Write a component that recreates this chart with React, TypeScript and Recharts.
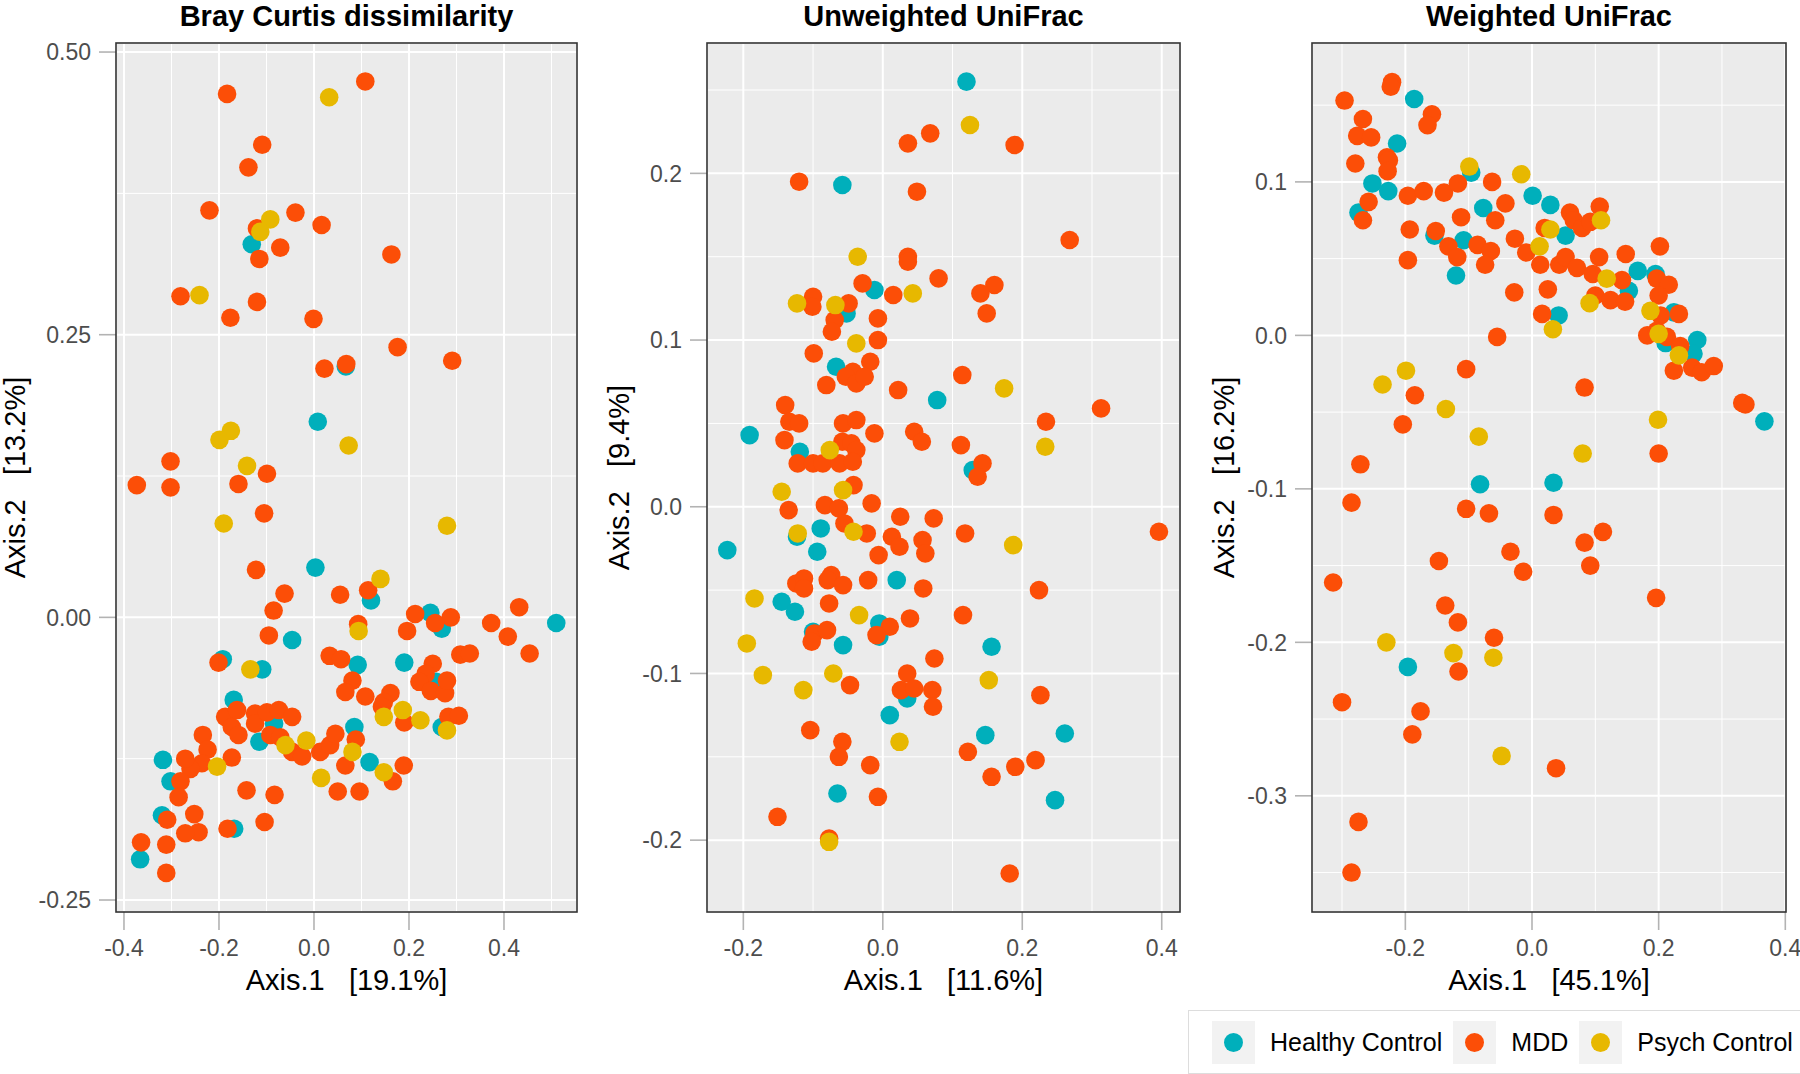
import React from 'react';
import { ScatterChart, Scatter, XAxis, YAxis, CartesianGrid, ReferenceLine } from 'recharts';

type Pt = [number, number];

const groups = ['Healthy Control', 'MDD', 'Psych Control'];
const groupColors = ['#00AFBB', '#FC4E07', '#E7B800'];

// Bray Curtis
const brayHealthy: Pt[] = [
  [-0.131, 0.33], [0.067, 0.222], [0.008, 0.173], [0.003, 0.044], [0.12, 0.015], [0.245, 0.004],
  [0.269, -0.01], [0.51, -0.005], [-0.046, -0.02], [0.092, -0.042], [0.19, -0.04], [0.257, -0.057],
  [-0.192, -0.037], [-0.109, -0.046], [0.269, -0.097], [-0.169, -0.073], [-0.084, -0.094], [-0.115, -0.11],
  [0.085, -0.097], [0.117, -0.128], [-0.318, -0.126], [-0.302, -0.145], [-0.32, -0.175], [-0.168, -0.187],
  [-0.366, -0.214],
];
const brayMdd: Pt[] = [
  [-0.183, 0.463], [0.108, 0.474], [-0.109, 0.418], [-0.138, 0.398], [-0.22, 0.36], [-0.12, 0.344],
  [-0.039, 0.358], [0.016, 0.347], [-0.071, 0.327], [-0.115, 0.317], [0.163, 0.321], [-0.281, 0.284],
  [-0.12, 0.279], [-0.176, 0.265], [-0.001, 0.264], [0.176, 0.239], [0.291, 0.227], [0.022, 0.22],
  [0.068, 0.224], [-0.302, 0.138], [-0.099, 0.127], [-0.373, 0.117], [-0.302, 0.115], [-0.159, 0.118],
  [-0.105, 0.092], [-0.122, 0.042], [-0.062, 0.021], [0.055, 0.02], [0.114, 0.024], [-0.085, 0.006],
  [0.213, 0.003], [0.288, 0.0], [0.255, -0.005], [0.373, -0.005], [0.432, 0.009], [0.408, -0.017],
  [0.454, -0.032], [0.093, -0.006], [0.196, -0.012], [-0.095, -0.016], [0.033, -0.034], [0.057, -0.037],
  [0.308, -0.033], [0.328, -0.032], [0.25, -0.041], [0.235, -0.05], [0.222, -0.057], [0.246, -0.065],
  [0.276, -0.067], [0.28, -0.056], [-0.201, -0.04], [0.081, -0.056], [0.066, -0.066], [0.108, -0.07],
  [0.161, -0.067], [0.147, -0.075], [0.143, -0.079], [0.19, -0.093], [0.283, -0.088], [0.305, -0.087],
  [-0.187, -0.088], [-0.162, -0.082], [-0.173, -0.097], [-0.159, -0.104], [-0.124, -0.085], [-0.124, -0.094],
  [-0.099, -0.084], [-0.074, -0.082], [-0.046, -0.088], [-0.092, -0.104], [-0.071, -0.106], [-0.046, -0.119],
  [-0.025, -0.123], [0.013, -0.119], [0.034, -0.113], [0.045, -0.103], [0.088, -0.108], [0.066, -0.131],
  [0.166, -0.145], [0.189, -0.131], [0.05, -0.154], [0.096, -0.154], [-0.234, -0.104], [-0.224, -0.117],
  [-0.236, -0.129], [-0.26, -0.134], [-0.271, -0.125], [-0.173, -0.124], [-0.281, -0.145], [-0.285, -0.159],
  [-0.142, -0.153], [-0.083, -0.157], [-0.309, -0.179], [-0.252, -0.174], [-0.243, -0.19], [-0.271, -0.191],
  [-0.182, -0.187], [-0.104, -0.181], [-0.364, -0.199], [-0.311, -0.201], [-0.311, -0.226],
];
const brayPsych: Pt[] = [
  [0.032, 0.46], [-0.092, 0.352], [-0.113, 0.341], [-0.241, 0.285], [0.073, 0.152], [-0.175, 0.165],
  [-0.199, 0.157], [-0.141, 0.134], [-0.19, 0.083], [0.28, 0.081], [0.14, 0.034], [0.094, -0.012],
  [-0.134, -0.046], [0.147, -0.088], [0.187, -0.082], [0.224, -0.091], [0.28, -0.1], [-0.06, -0.113],
  [-0.016, -0.109], [0.081, -0.119], [0.147, -0.137], [0.015, -0.142], [-0.204, -0.132],
];

// Unweighted UniFrac
const unwHealthy: Pt[] = [
  [0.12, 0.255], [-0.058, 0.193], [-0.012, 0.13], [-0.052, 0.116], [-0.067, 0.084], [0.078, 0.064],
  [-0.191, 0.043], [-0.119, 0.033], [0.129, 0.022], [-0.223, -0.026], [-0.089, -0.013], [-0.123, -0.018],
  [-0.094, -0.027], [0.02, -0.044], [-0.145, -0.057], [-0.126, -0.063], [-0.005, -0.07], [-0.005, -0.078],
  [-0.1, -0.075], [-0.057, -0.083], [0.156, -0.084], [0.035, -0.115], [0.01, -0.125], [0.147, -0.137],
  [0.261, -0.136], [-0.065, -0.172], [0.247, -0.176],
];
const unwMdd: Pt[] = [
  [0.068, 0.224], [0.036, 0.218], [0.189, 0.217], [-0.12, 0.195], [0.049, 0.189], [0.268, 0.16],
  [0.036, 0.15], [0.036, 0.147], [0.08, 0.137], [-0.029, 0.134], [0.015, 0.127], [0.16, 0.133],
  [0.14, 0.128], [0.149, 0.116], [-0.1, 0.126], [-0.101, 0.12], [-0.049, 0.122], [-0.069, 0.112],
  [-0.073, 0.105], [-0.007, 0.113], [-0.007, 0.1], [-0.099, 0.092], [-0.018, 0.087], [-0.043, 0.081],
  [-0.053, 0.078], [-0.038, 0.074], [-0.026, 0.078], [-0.081, 0.073], [0.114, 0.079], [0.022, 0.07],
  [0.313, 0.059], [-0.14, 0.061], [-0.134, 0.051], [-0.12, 0.05], [-0.057, 0.05], [-0.038, 0.052],
  [0.234, 0.051], [-0.141, 0.04], [-0.012, 0.044], [0.045, 0.045], [0.056, 0.039], [0.112, 0.037],
  [-0.058, 0.039], [-0.045, 0.038], [-0.038, 0.034], [0.143, 0.026], [0.136, 0.018], [-0.122, 0.026],
  [-0.1, 0.026], [-0.086, 0.026], [-0.062, 0.026], [-0.043, 0.027], [-0.042, 0.013], [-0.016, 0.002],
  [-0.135, -0.002], [-0.083, 0.001], [-0.063, -0.001], [-0.055, -0.01], [0.025, -0.006], [0.073, -0.007],
  [0.118, -0.016], [0.396, -0.015], [-0.023, -0.016], [0.013, -0.018], [0.024, -0.024], [0.057, -0.02],
  [0.061, -0.028], [-0.006, -0.029], [-0.124, -0.046], [-0.113, -0.043], [-0.113, -0.049], [-0.074, -0.041],
  [-0.079, -0.044], [-0.057, -0.047], [-0.021, -0.044], [0.058, -0.049], [0.224, -0.05], [-0.077, -0.058],
  [0.01, -0.072], [-0.009, -0.077], [0.039, -0.067], [0.115, -0.065], [-0.098, -0.076], [-0.08, -0.074],
  [-0.102, -0.081], [0.074, -0.091], [-0.047, -0.107], [0.035, -0.1], [0.026, -0.11], [0.045, -0.109],
  [0.071, -0.11], [0.072, -0.12], [0.226, -0.113], [-0.104, -0.134], [-0.058, -0.141], [-0.063, -0.15],
  [0.122, -0.147], [-0.018, -0.155], [0.156, -0.162], [0.19, -0.156], [0.219, -0.152], [-0.007, -0.174],
  [-0.151, -0.186], [-0.077, -0.199], [0.182, -0.22],
];
const unwPsych: Pt[] = [
  [0.125, 0.229], [-0.036, 0.15], [0.043, 0.128], [-0.123, 0.122], [-0.068, 0.121], [-0.038, 0.098],
  [0.174, 0.071], [0.233, 0.036], [-0.076, 0.034], [-0.145, 0.009], [-0.057, 0.01], [0.187, -0.023],
  [-0.122, -0.016], [-0.042, -0.015], [-0.184, -0.055], [-0.034, -0.065], [-0.195, -0.082], [-0.172, -0.101],
  [-0.114, -0.11], [-0.071, -0.1], [0.152, -0.104], [0.024, -0.141], [-0.077, -0.201],
];

// Weighted UniFrac
const wHealthy: Pt[] = [
  [-0.186, 0.154], [-0.213, 0.125], [-0.252, 0.099], [-0.227, 0.094], [-0.274, 0.08], [-0.096, 0.106],
  [-0.077, 0.083], [0.001, 0.091], [0.029, 0.085], [-0.154, 0.065], [-0.108, 0.062], [0.053, 0.065],
  [-0.12, 0.039], [0.167, 0.042], [0.195, 0.04], [0.153, 0.029], [0.042, 0.013], [0.224, 0.015],
  [0.211, -0.005], [0.261, -0.003], [0.255, -0.012], [0.367, -0.056], [-0.082, -0.097], [0.034, -0.096],
  [-0.196, -0.216],
];
const wMdd: Pt[] = [
  [-0.221, 0.165], [-0.223, 0.162], [-0.296, 0.153], [-0.158, 0.144], [-0.165, 0.137], [-0.267, 0.141],
  [-0.276, 0.13], [-0.254, 0.129], [-0.279, 0.112], [-0.229, 0.116], [-0.226, 0.114], [-0.228, 0.107],
  [-0.258, 0.087], [-0.267, 0.075], [-0.196, 0.091], [-0.171, 0.094], [-0.139, 0.093], [-0.117, 0.099],
  [-0.063, 0.1], [-0.042, 0.086], [-0.112, 0.077], [-0.058, 0.075], [0.06, 0.08], [0.066, 0.075],
  [0.079, 0.07], [0.092, 0.074], [0.107, 0.084], [-0.193, 0.069], [-0.152, 0.068], [-0.132, 0.058],
  [-0.118, 0.051], [-0.086, 0.059], [-0.065, 0.055], [-0.074, 0.046], [-0.027, 0.063], [0.02, 0.07],
  [-0.196, 0.049], [-0.009, 0.054], [0.013, 0.046], [0.043, 0.046], [0.053, 0.051], [0.071, 0.044],
  [0.096, 0.04], [0.106, 0.051], [0.148, 0.053], [0.202, 0.058], [0.142, 0.036], [0.197, 0.037],
  [0.216, 0.033], [0.2, 0.026], [-0.028, 0.028], [0.025, 0.03], [0.1, 0.026], [0.124, 0.023],
  [0.147, 0.022], [0.016, 0.014], [-0.055, -0.001], [0.203, 0.013], [0.232, 0.014], [0.182, 0.0],
  [0.197, 0.003], [0.213, -0.001], [0.234, -0.007], [0.224, -0.023], [0.253, -0.021], [0.268, -0.024],
  [0.287, -0.02], [0.332, -0.044], [0.337, -0.045], [-0.104, -0.022], [-0.185, -0.039], [-0.204, -0.058],
  [0.083, -0.034], [0.2, -0.077], [-0.271, -0.084], [-0.285, -0.109], [-0.104, -0.113], [-0.068, -0.116],
  [0.034, -0.117], [0.112, -0.128], [0.083, -0.135], [-0.147, -0.147], [-0.034, -0.141], [-0.014, -0.154],
  [0.092, -0.15], [-0.314, -0.161], [0.196, -0.171], [-0.137, -0.176], [-0.117, -0.187], [-0.06, -0.197],
  [-0.116, -0.219], [-0.3, -0.239], [-0.176, -0.245], [-0.189, -0.26], [0.038, -0.282], [-0.274, -0.317],
  [-0.285, -0.35],
];
const wPsych: Pt[] = [
  [-0.099, 0.11], [-0.017, 0.105], [0.109, 0.075], [0.012, 0.058], [0.029, 0.069], [0.118, 0.037],
  [0.091, 0.021], [0.033, 0.004], [0.187, 0.016], [0.2, 0.001], [0.232, -0.013], [-0.199, -0.023],
  [-0.236, -0.032], [-0.136, -0.048], [-0.084, -0.066], [0.199, -0.055], [0.08, -0.077], [-0.23, -0.2],
  [-0.124, -0.207], [-0.061, -0.21], [-0.048, -0.274],
];

const toData = (pts: Pt[]) => pts.map(([x, y]) => ({ x, y }));

const FONT = "'Liberation Sans', Arial, sans-serif";

const CHART_H = 1000;
const TOP = 43;
const X_AXIS_H = 88;

const panels = [
  {
    title: 'Bray Curtis dissimilarity',
    xTitle: 'Axis.1   [19.1%]',
    yTitle: 'Axis.2   [13.2%]',
    yTitleX: 25,
    chartLeft: 0, yAxisWidth: 116, rightMargin: 23,
    xDomain: [-0.4168, 0.5537], yDomain: [-0.2606, 0.508],
    xTicks: [-0.4, -0.2, 0, 0.2, 0.4], yTicks: [-0.25, 0, 0.25, 0.5],
    xMinor: [-0.3, -0.1, 0.1, 0.3, 0.5], yMinor: [-0.125, 0.125, 0.375],
    yDigits: 2,
    series: [brayHealthy, brayMdd, brayPsych],
  },
  {
    title: 'Unweighted UniFrac',
    xTitle: 'Axis.1   [11.6%]',
    yTitle: 'Axis.2   [9.4%]',
    yTitleX: 629,
    chartLeft: 600, yAxisWidth: 107, rightMargin: 20,
    xDomain: [-0.2521, 0.4262], yDomain: [-0.2431, 0.2782],
    xTicks: [-0.2, 0, 0.2, 0.4], yTicks: [-0.2, -0.1, 0, 0.1, 0.2],
    xMinor: [-0.1, 0.1, 0.3], yMinor: [-0.15, -0.05, 0.05, 0.15, 0.25],
    yDigits: 1,
    series: [unwHealthy, unwMdd, unwPsych],
  },
  {
    title: 'Weighted UniFrac',
    xTitle: 'Axis.1   [45.1%]',
    yTitle: 'Axis.2   [16.2%]',
    yTitleX: 1234,
    chartLeft: 1200, yAxisWidth: 112, rightMargin: 14,
    xDomain: [-0.3474, 0.4011], yDomain: [-0.3757, 0.1905],
    xTicks: [-0.2, 0, 0.2, 0.4], yTicks: [-0.3, -0.2, -0.1, 0, 0.1],
    xMinor: [-0.3, -0.1, 0.1, 0.3], yMinor: [-0.35, -0.25, -0.15, -0.05, 0.05, 0.15],
    yDigits: 1,
    series: [wHealthy, wMdd, wPsych],
  },
];

const dot = (color: string) => (props: any) => (
  <circle cx={props.cx} cy={props.cy} r={9.3} fill={color} />
);

const tickStyle = { fill: '#4D4D4D', fontSize: 23, fontFamily: FONT };
const tickLineStyle = { stroke: '#B3B3B3', strokeWidth: 1.6 };

function Panel({ p }: { p: (typeof panels)[number] }) {
  return (
    <div style={{ position: 'absolute', left: p.chartLeft, top: 0 }}>
      <ScatterChart
        width={600}
        height={CHART_H}
        margin={{ top: TOP, right: p.rightMargin, bottom: 0, left: 0 }}
      >
        <CartesianGrid stroke="#FFFFFF" strokeWidth={2} fill="#EBEBEB" fillOpacity={1} />
        {p.xMinor.map(v => (
          <ReferenceLine key={'x' + v} x={v} stroke="#FFFFFF" strokeWidth={1} />
        ))}
        {p.yMinor.map(v => (
          <ReferenceLine key={'y' + v} y={v} stroke="#FFFFFF" strokeWidth={1} />
        ))}
        <XAxis
          type="number"
          dataKey="x"
          domain={p.xDomain}
          ticks={p.xTicks}
          interval={0}
          allowDataOverflow
          height={X_AXIS_H}
          axisLine={false}
          tickLine={tickLineStyle}
          tickSize={18}
          tickMargin={10}
          tickFormatter={(v: number) => v.toFixed(1)}
          tick={tickStyle}
        />
        <YAxis
          type="number"
          dataKey="y"
          domain={p.yDomain}
          ticks={p.yTicks}
          interval={0}
          allowDataOverflow
          width={p.yAxisWidth}
          axisLine={false}
          tickLine={tickLineStyle}
          tickSize={17}
          tickMargin={8}
          tickFormatter={(v: number) => v.toFixed(p.yDigits)}
          tick={tickStyle}
        />
        {p.series.map((s, i) => (
          <Scatter
            key={groups[i]}
            name={groups[i]}
            data={toData(s)}
            fill={groupColors[i]}
            shape={dot(groupColors[i])}
            isAnimationActive={false}
          />
        ))}
      </ScatterChart>
    </div>
  );
}

export default function App() {
  const plotBottom = CHART_H - X_AXIS_H;
  return (
    <div
      style={{
        position: 'absolute', left: 0, top: 0, width: 1800, height: 1074,
        background: '#FFFFFF', overflow: 'hidden', fontFamily: FONT,
      }}
    >
      {panels.map(p => (
        <Panel key={p.title} p={p} />
      ))}

      <svg
        width={1800}
        height={1074}
        style={{ position: 'absolute', left: 0, top: 0, pointerEvents: 'none' }}
      >
        {panels.map(p => {
          const left = p.chartLeft + p.yAxisWidth;
          const right = p.chartLeft + 600 - p.rightMargin;
          const cx = (left + right) / 2;
          const cy = (TOP + plotBottom) / 2;
          return (
            <g key={p.title}>
              <rect
                x={left} y={TOP} width={right - left} height={plotBottom - TOP}
                fill="none" stroke="#333333" strokeWidth={1.6}
              />
              <text x={cx} y={26} textAnchor="middle" fontSize={29} fontWeight="bold" fontFamily={FONT} fill="#000">
                {p.title}
              </text>
              <text x={cx} y={990} textAnchor="middle" fontSize={29} fontFamily={FONT} fill="#000" style={{ whiteSpace: 'pre' }}>
                {p.xTitle}
              </text>
              <text
                x={p.yTitleX} y={cy} textAnchor="middle" fontSize={29} fontFamily={FONT} fill="#000"
                transform={`rotate(-90 ${p.yTitleX} ${cy})`} style={{ whiteSpace: 'pre' }}
              >
                {p.yTitle}
              </text>
            </g>
          );
        })}
      </svg>

      <div
        style={{
          position: 'absolute', left: 1188, top: 1010, width: 640, height: 64,
          border: '1.5px solid #DDDDDD', boxSizing: 'border-box',
          display: 'flex', alignItems: 'center', paddingLeft: 23,
        }}
      >
        {groups.map((g, i) => (
          <div key={g} style={{ display: 'flex', alignItems: 'center', marginRight: 11 }}>
            <div
              style={{
                width: 43, height: 43, background: '#F2F2F2',
                display: 'flex', alignItems: 'center', justifyContent: 'center',
              }}
            >
              <div style={{ width: 19, height: 19, borderRadius: '50%', background: groupColors[i] }} />
            </div>
            <span style={{ marginLeft: 15, fontSize: 25, color: '#000', whiteSpace: 'nowrap' }}>{g}</span>
          </div>
        ))}
      </div>
    </div>
  );
}
